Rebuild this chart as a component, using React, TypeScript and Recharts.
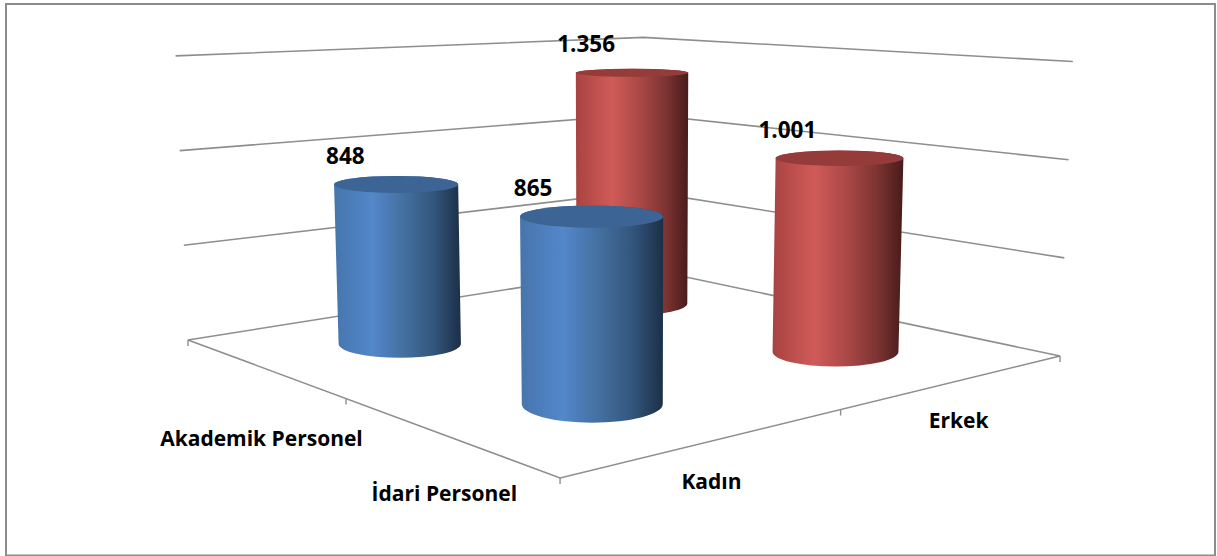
import React from "react";
import { BarChart, Bar, XAxis, YAxis } from "recharts";

const categories = ["Akademik Personel", "İdari Personel"];
const seriesNames = ["Kadın", "Erkek"];
const kadinValues = [848, 865];
const erkekValues = [1356, 1001];
const valueTicks = [0, 500, 1000, 1500];

const data = categories.map((category, i) => ({ category, Kadın: kadinValues[i], Erkek: erkekValues[i] }));

const W = 1217, H = 556, PLOT_H = 278, MAX = 1500;
const FONT = "'Open Sans', Lato, sans-serif";
const GRID = "#8e8e8e";

// Floor plane homography: u runs Akademik -> İdari, v runs Kadın -> Erkek
const floor = (u: number, v: number) => {
  const w = -0.2615 * u + 0.2056 * v + 1;
  return { w, x: (225.6 * u + 587.2 * v + 188) / w, y: (13 * u - 16.9 * v + 340) / w };
};
// A point at the pixel height h (measured at unit depth) above the floor
const lift = (u: number, v: number, h: number) => {
  const p = floor(u, v);
  const hp = h / p.w;
  return { w: p.w, x: p.x + (p.x - 625) * hp * 1e-4, y: p.y - hp };
};
const valueHeight = (value: number) => (PLOT_H * value) / MAX;
const cell = (i: number) => 0.25 + 0.5 * i;
const squash = (y: number) => 0.03 + 0.00058 * y;
const formatTr = (v: number) => String(v).replace(/\B(?=(\d{3})+$)/g, ".");

const Cylinder = ({ payload, height, series, fill, cap }: any) => {
  const u = cell(categories.indexOf(payload.category));
  const v = cell(series);
  const base = floor(u, v);
  const top = lift(u, v, height);
  const bx = base.x + 3, tx = top.x + 3;
  const rb = 60.3 / base.w, rt = 61.2 / base.w;
  const ryb = rb * squash(base.y), ryt = rt * squash(top.y);
  const d = `M${tx - rt},${top.y} L${bx - rb},${base.y} A${rb},${ryb} 0 0 0 ${bx + rb},${base.y} L${tx + rt},${top.y} A${rt},${ryt} 0 0 0 ${tx - rt},${top.y} Z`;
  return (
    <g>
      <path d={d} fill={fill} />
      <ellipse cx={tx} cy={top.y} rx={rt} ry={ryt} fill={cap} />
      <text x={tx - 50 / base.w} y={top.y - 29} textAnchor="middle" dominantBaseline="central"
        fontFamily={FONT} fontWeight={700} fontSize={22.5} fill="#000">
        {formatTr(payload[seriesNames[series]])}
      </text>
    </g>
  );
};

const poly = (pts: { x: number; y: number }[]) => pts.map((p) => `${p.x},${p.y}`).join(" ");

const Scene = () => (
  <g>
    <defs>
      <linearGradient id="blueSide" x1="0" y1="0" x2="1" y2="0">
        <stop offset="0" stopColor="#4775ac" />
        <stop offset="0.3" stopColor="#5387cb" />
        <stop offset="0.55" stopColor="#44709f" />
        <stop offset="0.78" stopColor="#33567e" />
        <stop offset="1" stopColor="#1c2f47" />
      </linearGradient>
      <linearGradient id="redSide" x1="0" y1="0" x2="1" y2="0">
        <stop offset="0" stopColor="#a84341" />
        <stop offset="0.32" stopColor="#d05b58" />
        <stop offset="0.58" stopColor="#a84745" />
        <stop offset="0.8" stopColor="#7c3432" />
        <stop offset="1" stopColor="#471b1a" />
      </linearGradient>
    </defs>
    <rect x={6} y={4} width={1209} height={551.5} fill="#fff" stroke="#8c8c8c" strokeWidth={2} />
    {valueTicks.map((t) => (
      <polyline key={t} fill="none" stroke={GRID} strokeWidth={1.6}
        points={poly([lift(0, 0, valueHeight(t) * 1.022), lift(0, 1, valueHeight(t)), lift(1, 1, valueHeight(t))])} />
    ))}
    <polyline fill="none" stroke={GRID} strokeWidth={1.6} points={poly([floor(0, 0), floor(1, 0), floor(1, 1)])} />
    {[floor(0, 0), floor(0.5, 0), floor(1, 0), floor(1, 0.5), floor(1, 1)].map((p, i) => (
      <line key={i} x1={p.x} y1={p.y} x2={p.x} y2={p.y + 6} stroke={GRID} strokeWidth={1.4} />
    ))}
    {categories.map((c, i) => {
      const p = floor(cell(i), 0);
      return (
        <text key={c} x={p.x} y={p.y + 71 - 13 * i} textAnchor="middle" dominantBaseline="central"
          fontFamily={FONT} fontWeight={700} fontSize={21} fill="#000">{c}</text>
      );
    })}
    {seriesNames.map((s, i) => {
      const p = floor(1, cell(i));
      return (
        <text key={s} x={p.x + 2} y={p.y + 39} textAnchor="middle" dominantBaseline="central"
          fontFamily={FONT} fontWeight={700} fontSize={21} fill="#000">{s}</text>
      );
    })}
  </g>
);

export default function App() {
  return (
    <div style={{ position: "absolute", left: 0, top: 0, width: W, height: H }}>
      <BarChart width={W} height={H} data={data} margin={{ top: 139, bottom: 139, left: 100, right: 100 }}>
        <XAxis dataKey="category" hide />
        <YAxis domain={[0, MAX]} hide />
        {Scene()}
        <Bar dataKey="Erkek" isAnimationActive={false}
          shape={(p: any) => <Cylinder {...p} series={1} fill="url(#redSide)" cap="#953b3a" />} />
        <Bar dataKey="Kadın" isAnimationActive={false}
          shape={(p: any) => <Cylinder {...p} series={0} fill="url(#blueSide)" cap="#3c6494" />} />
      </BarChart>
    </div>
  );
}
